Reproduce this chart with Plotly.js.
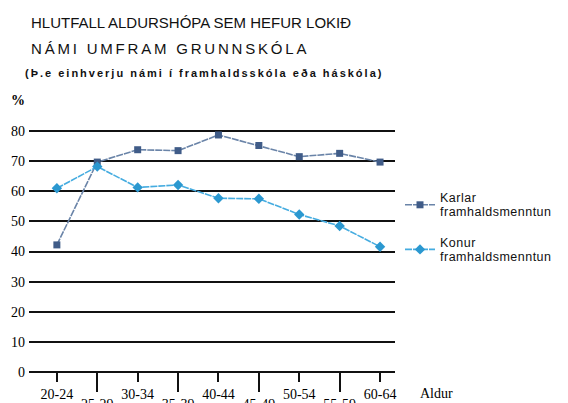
<!DOCTYPE html>
<html><head><meta charset="utf-8">
<script src="https://cdn.plot.ly/plotly-3.0.1.min.js"></script>
<style>html,body{margin:0;padding:0;background:#fff}#chart{width:568px;height:403px}</style>
</head><body><div id="chart"></div>
<script>
const categories = ['20-24','25-29','30-34','35-39','40-44','45-49','50-54','55-59','60-64'];
const karlar = [42.2, 69.7, 73.8, 73.5, 78.7, 75.2, 71.5, 72.6, 69.7];
const konur  = [61.0, 68.2, 61.3, 62.1, 57.7, 57.5, 52.3, 48.5, 41.6];
const seriesNames = ['Karlar', 'Konur'];
const seriesSuffix = 'framhaldsmenntun';
const yTicks = [0, 10, 20, 30, 40, 50, 60, 70, 80];
const titleLine1 = 'HLUTFALL ALDURSHÓPA SEM HEFUR LOKIÐ';
const titleLine2 = 'NÁMI UMFRAM GRUNNSKÓLA';
const subtitle = '(Þ.e einhverju námi í framhaldsskóla eða háskóla)';
const yUnit = '%';
const xUnit = 'Aldur';

const W = 568, H = 403, M = {l: 29, r: 172, t: 116, b: 31};
const PW = W - M.l - M.r, PH = H - M.t - M.b;
const px = x => (x - M.l) / PW;
const py = y => (H - M.b - y) / PH;

const idx = categories.map((c, i) => i);
const evenIdx = idx.filter(i => i % 2 === 0);
const oddIdx = idx.filter(i => i % 2 === 1);
const serif = 'Liberation Serif, Times New Roman, serif';
const sans = 'Liberation Sans, Arial, sans-serif';
const xr = [-0.69, 8.37];
const legName = n => '<span style="font-size:12.5px;letter-spacing:0.5px">' + n + '<br>' + seriesSuffix + '</span>';

const traces = [
  {x: idx, y: karlar, name: legName(seriesNames[0]), mode: 'lines+markers', legendgroup: 'a',
   line: {color: '#6a84a8', width: 1.6, dash: '7px,1px'}, marker: {symbol: 'square', size: 7, color: '#405c88'}},
  {x: idx, y: konur, name: legName(seriesNames[1]), mode: 'lines+markers', legendgroup: 'b',
   line: {color: '#45ace0', width: 1.6, dash: '7px,1px'}, marker: {symbol: 'diamond', size: 8, color: '#2b98d0'}},
  {x: oddIdx, y: oddIdx.map(() => null), xaxis: 'x2', showlegend: false, hoverinfo: 'skip', mode: 'markers'}
];

const axTick = {family: serif, size: 14, color: '#000'};
const layout = {
  width: W, height: H, margin: M,
  paper_bgcolor: '#fff', plot_bgcolor: '#fff',
  showlegend: true,
  legend: {x: px(400), y: py(184), xanchor: 'left', yanchor: 'top', traceorder: 'grouped', tracegroupgap: 13,
           font: {family: sans, size: 11, color: '#111'}, bgcolor: 'rgba(0,0,0,0)', itemwidth: 30},
  xaxis: {range: xr, tickmode: 'array', tickvals: evenIdx, ticktext: evenIdx.map(i => categories[i]),
          ticks: 'outside', ticklen: 9, tickwidth: 2, tickcolor: '#111', showgrid: false, zeroline: false,
          showline: false, tickfont: axTick, fixedrange: true},
  xaxis2: {range: xr, overlaying: 'x', anchor: 'y', side: 'bottom', tickmode: 'array', tickvals: oddIdx,
           ticktext: oddIdx.map(i => categories[i]), ticks: 'outside', ticklen: 19, tickwidth: 2, tickcolor: '#111',
           showgrid: false, zeroline: false, showline: false, tickfont: axTick, fixedrange: true},
  yaxis: {range: [0, 85], tickmode: 'array', tickvals: yTicks, ticks: '', showgrid: true, gridcolor: '#111',
          gridwidth: 2, zeroline: true, zerolinecolor: '#111', zerolinewidth: 2, showline: false,
          tickfont: axTick, ticklabelstandoff: 3, fixedrange: true},
  annotations: [
    {text: titleLine1, xref: 'paper', yref: 'paper', x: px(29), y: py(22), xanchor: 'left', yanchor: 'middle',
     showarrow: false, font: {family: sans, size: 15, color: '#111'}},
    {text: '<span style="letter-spacing:2.8px">' + titleLine2 + '</span>', xref: 'paper', yref: 'paper', x: px(29), y: py(48),
     xanchor: 'left', yanchor: 'middle', showarrow: false, font: {family: sans, size: 15, color: '#111'}},
    {text: '<span style="letter-spacing:2px">' + subtitle + '</span>', xref: 'paper', yref: 'paper', x: px(23), y: py(73),
     xanchor: 'left', yanchor: 'middle', showarrow: false, font: {family: sans, size: 11, color: '#111', weight: 'bold'}},
    {text: yUnit, xref: 'paper', yref: 'paper', x: px(9), y: py(100), xanchor: 'left', yanchor: 'middle',
     showarrow: false, font: {family: serif, size: 14, color: '#000', weight: 'bold'}},
    {text: xUnit, xref: 'paper', yref: 'paper', x: px(419), y: py(393), xanchor: 'left', yanchor: 'middle',
     showarrow: false, font: {family: serif, size: 14, color: '#000'}}
  ]
};

Plotly.newPlot('chart', traces, layout, {displayModeBar: false, staticPlot: true});
</script></body></html>
